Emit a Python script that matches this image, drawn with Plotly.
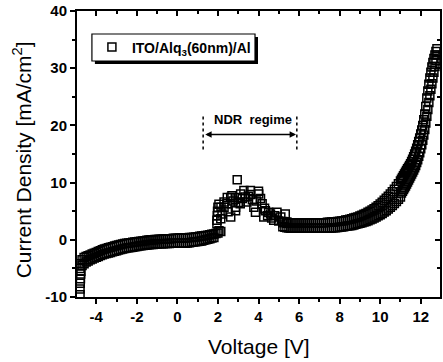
import plotly.graph_objects as go

# ---------------- data ----------------
# reverse bias -> low forward bias, upper and lower edge of the measured band
V_low_up = [-4.8, -4.7, -4.6, -4.5, -4.4, -4.3, -4.2, -4.1, -4.0,
            -3.9, -3.8, -3.7, -3.6, -3.5, -3.4, -3.3, -3.2, -3.1, -3.0,
            -2.9, -2.8, -2.7, -2.6, -2.5, -2.4, -2.3, -2.2, -2.1, -2.0,
            -1.9, -1.8, -1.7, -1.6, -1.5, -1.4, -1.3, -1.2, -1.1, -1.0,
            -0.9, -0.8, -0.7, -0.6, -0.5, -0.4, -0.3, -0.2, -0.1, 0.0,
            0.1, 0.2, 0.3, 0.4, 0.5, 0.6, 0.7, 0.8, 0.9, 1.0,
            1.1, 1.2, 1.3, 1.4, 1.5, 1.6, 1.7, 1.8, 1.9, 2.0]
J_low_up = [-4.2, -3.5, -3.1, -2.9, -2.8, -2.65, -2.5, -2.35, -2.2,
            -2.05, -1.9, -1.75, -1.6, -1.5, -1.4, -1.3, -1.2, -1.1, -1.0,
            -0.9, -0.8, -0.75, -0.65, -0.6, -0.55, -0.5, -0.45, -0.4, -0.35,
            -0.3, -0.25, -0.2, -0.15, -0.1, -0.05, 0.0, 0.0, 0.05, 0.05,
            0.1, 0.1, 0.15, 0.15, 0.2, 0.2, 0.2, 0.25, 0.25, 0.25,
            0.3, 0.3, 0.3, 0.35, 0.35, 0.4, 0.4, 0.45, 0.5, 0.55,
            0.6, 0.65, 0.7, 0.75, 0.8, 0.9, 0.95, 1.0, 1.1, 1.2]
V_low_dn = [-4.8, -4.7, -4.6, -4.5, -4.4, -4.3, -4.2, -4.1, -4.0,
            -3.9, -3.8, -3.7, -3.6, -3.5, -3.4, -3.3, -3.2, -3.1, -3.0,
            -2.9, -2.8, -2.7, -2.6, -2.5, -2.4, -2.3, -2.2, -2.1, -2.0,
            -1.9, -1.8, -1.7, -1.6, -1.5, -1.4, -1.3, -1.2, -1.1, -1.0,
            -0.9, -0.8, -0.7, -0.6, -0.5, -0.4, -0.3, -0.2, -0.1, 0.0,
            0.1, 0.2, 0.3, 0.4, 0.5, 0.6, 0.7, 0.8, 0.9, 1.0,
            1.1, 1.2, 1.3, 1.4, 1.5, 1.6, 1.7, 1.8]
J_low_dn = [-5.0, -4.5, -4.2, -3.9, -3.7, -3.5, -3.35, -3.2, -3.05,
            -2.9, -2.75, -2.6, -2.5, -2.4, -2.3, -2.2, -2.1, -2.0, -1.9,
            -1.8, -1.7, -1.6, -1.5, -1.45, -1.4, -1.35, -1.3, -1.2, -1.15,
            -1.1, -1.05, -1.0, -0.95, -0.9, -0.85, -0.8, -0.8, -0.75, -0.75,
            -0.7, -0.7, -0.7, -0.65, -0.65, -0.65, -0.6, -0.6, -0.6, -0.6,
            -0.6, -0.6, -0.6, -0.6, -0.55, -0.5, -0.45, -0.4, -0.35, -0.3,
            -0.25, -0.2, -0.1, 0.0, 0.1, 0.2, 0.3, 0.4]
# first points at -4.8 V
V_start = [-4.8, -4.8, -4.79, -4.78, -4.77, -4.76]
J_start = [-9.6, -8.6, -7.6, -6.8, -6.0, -5.5]
# negative differential resistance region
V_ndr = [2.05, 2.14, 1.95, 1.95, 1.97, 1.98, 2.0, 2.05, 2.14, 2.2, 2.15, 2.3, 2.3,
         2.46, 2.45, 2.5, 2.63, 2.63, 2.69, 2.75, 2.87, 2.87, 2.94, 2.95, 3.0, 3.1,
         3.12, 3.2, 3.28, 3.35, 3.43, 3.5, 3.6, 3.6, 3.7, 3.77, 3.85, 3.9, 4.0, 4.01,
         4.1, 4.18, 4.26, 4.3, 4.34, 4.45, 4.5, 4.59, 4.65, 4.75, 4.8, 4.91, 5.0,
         5.1, 5.2, 5.32, 5.4]
J_ndr = [1.6, 1.45, 2.8, 3.4, 4.2, 5.0, 5.7, 6.2, 3.7, 4.5, 5.7, 5.7, 6.6,
         7.4, 6.3, 4.9, 4.0, 7.4, 7.7, 6.8, 5.7, 5.1, 7.4, 10.5, 6.5, 6.3,
         8.0, 7.2, 8.6, 7.5, 6.6, 7.6, 8.6, 7.9, 7.0, 5.7, 4.8, 6.8, 8.5, 8.0,
         7.2, 6.3, 4.0, 5.5, 5.1, 4.2, 4.8, 4.5, 3.8, 3.4, 4.2, 4.8, 3.3,
         4.0, 3.0, 4.5, 2.9]
# plateau and onset of injection, upper / lower edge of band
V_mid = [5.2, 5.3, 5.4, 5.5, 5.6, 5.7, 5.8, 5.9, 6.0,
         6.1, 6.2, 6.3, 6.4, 6.5, 6.6, 6.7, 6.8, 6.9, 7.0,
         7.1, 7.2, 7.3, 7.4, 7.5, 7.6, 7.7, 7.8, 7.9, 8.0,
         8.1, 8.2, 8.3, 8.4, 8.5, 8.6, 8.7, 8.8, 8.9, 9.0,
         9.1, 9.2, 9.3, 9.4, 9.5, 9.6, 9.7, 9.8, 9.9, 10.0,
         10.1, 10.2, 10.3, 10.4, 10.5, 10.6, 10.7, 10.8, 10.9, 11.0]
J_mid_up = [3.2, 3.1, 3.1, 3.0, 3.0, 3.0, 3.0, 3.0, 3.0,
            3.0, 3.0, 3.0, 3.0, 3.0, 3.0, 3.0, 3.0, 3.0, 3.0,
            3.0, 3.0, 3.0, 3.05, 3.05, 3.1, 3.1, 3.15, 3.2, 3.25,
            3.3, 3.35, 3.45, 3.5, 3.6, 3.7, 3.8, 3.9, 4.0, 4.15,
            4.3, 4.45, 4.6, 4.8, 5.0, 5.2, 5.45, 5.7, 5.95, 6.25,
            6.55, 6.9, 7.25, 7.6, 8.0, 8.4, 8.85, 9.3, 9.8, 10.3]
J_mid_dn = [2.3, 2.2, 2.1, 2.05, 2.0, 2.0, 2.0, 2.0, 2.0,
            2.0, 2.0, 2.0, 2.0, 2.0, 2.0, 2.0, 2.0, 2.0, 2.0,
            2.0, 2.0, 2.0, 2.0, 2.05, 2.05, 2.1, 2.1, 2.15, 2.2,
            2.25, 2.3, 2.35, 2.4, 2.45, 2.5, 2.6, 2.7, 2.8, 2.9,
            3.0, 3.1, 3.2, 3.35, 3.5, 3.65, 3.8, 4.0, 4.2, 4.4,
            4.6, 4.85, 5.1, 5.4, 5.7, 6.0, 6.35, 6.7, 7.1, 7.5]
# steep rise at high voltage
V_high = [11.05, 11.1, 11.15, 11.2, 11.25, 11.3, 11.35, 11.4, 11.45, 11.5,
          11.55, 11.6, 11.65, 11.7, 11.75, 11.8, 11.85, 11.9, 11.95, 12.0,
          12.05, 12.1, 12.15, 12.2, 12.25, 12.3, 12.35, 12.4, 12.45, 12.5,
          12.55, 12.6, 12.65, 12.7, 12.75, 12.8]
J_high_up = [10.6, 10.9, 11.2, 11.5, 11.8, 12.1, 12.4, 12.7, 13.0, 13.3,
             13.7, 14.1, 14.5, 15.0, 15.5, 16.0, 16.6, 17.2, 17.8, 18.5,
             19.2, 20.0, 21.0, 22.0, 23.3, 24.8, 26.0, 27.2, 28.3, 29.3,
             30.2, 31.0, 31.7, 32.3, 32.9, 33.4]
J_high_dn = [8.2, 8.5, 8.8, 9.1, 9.4, 9.75, 10.1, 10.45, 10.8, 11.15,
             11.5, 11.85, 12.2, 12.6, 13.0, 13.5, 14.0, 14.6, 15.2, 15.9,
             16.6, 17.4, 18.3, 19.3, 20.4, 21.6, 22.8, 24.0, 25.2, 26.3,
             27.3, 28.3, 29.3, 30.3, 31.3, 32.3]

x_ticks = [-4, -2, 0, 2, 4, 6, 8, 10, 12]
x_ticktext = ["-4", "-2", "0", "2", "4", "6", "8", "10", "12"]
y_ticks = [-10, 0, 10, 20, 30, 40]
y_ticktext = ["-10", "0", "10", "20", "30", "40"]

V_all = V_start + V_low_dn + V_low_up + V_ndr + V_mid + V_mid + V_high + V_high
J_all = J_start + J_low_dn + J_low_up + J_ndr + J_mid_dn + J_mid_up + J_high_dn + J_high_up

FONT = "Arial, Liberation Sans, sans-serif"
L, R, T, B = 77, 442, 11, 297
PW, PH = R - L, B - T


def px(xp):
    return (xp - L) / PW


def py(yp):
    return (B - yp) / PH


fig = go.Figure()
fig.add_trace(go.Scatter(
    x=V_all, y=J_all, mode="markers",
    name="ITO/Alq<sub>3</sub>(60nm)/Al",
    marker=dict(symbol="square-open", size=8, color="black", line=dict(width=1.5)),
))
# helper trace so the mirrored (top/right) axes with inward ticks exist
fig.add_trace(go.Scatter(x=[None], y=[None], xaxis="x2", yaxis="y2",
                         showlegend=False, hoverinfo="skip"))

common = dict(showgrid=False, zeroline=False, showline=True, linecolor="black",
              linewidth=2, tickcolor="black", tickwidth=1.5)
fig.update_layout(
    width=443, height=362,
    margin=dict(l=L, r=443 - R, t=T, b=362 - B),
    paper_bgcolor="white", plot_bgcolor="white",
    font=dict(family=FONT, color="black"),
    showlegend=True,
    xaxis=dict(range=[-4.95, 12.95], tickvals=x_ticks, ticktext=x_ticktext,
               ticks="outside", ticklen=5, mirror=True,
               minor=dict(dtick=1, tick0=0, ticks="outside", ticklen=3,
                          tickcolor="black", tickwidth=1.5),
               tickfont=dict(size=15, weight="bold"), **common),
    yaxis=dict(range=[-10, 40], tickvals=y_ticks, ticktext=y_ticktext,
               ticks="outside", ticklen=5, mirror=True,
               minor=dict(dtick=5, tick0=0, ticks="outside", ticklen=3,
                          tickcolor="black", tickwidth=1.5),
               tickfont=dict(size=15, weight="bold"), **common),
    xaxis2=dict(range=[-4.95, 12.95], overlaying="x", side="top", anchor="y2",
                tickvals=x_ticks, showticklabels=False, ticks="inside", ticklen=5,
                minor=dict(dtick=1, tick0=0, ticks="inside", ticklen=3,
                           tickcolor="black", tickwidth=1.5),
                **common),
    yaxis2=dict(range=[-10, 40], overlaying="y", side="right", anchor="x2",
                tickvals=y_ticks, showticklabels=False, ticks="inside", ticklen=5,
                minor=dict(dtick=5, tick0=0, ticks="inside", ticklen=3,
                           tickcolor="black", tickwidth=1.5),
                **common),
    legend=dict(x=px(92), y=py(47.5), xanchor="left", yanchor="middle",
                bgcolor="rgba(0,0,0,0)", borderwidth=0,
                font=dict(size=14, weight="bold")),
)

# legend frame with drop shadow
fig.add_shape(type="rect", xref="paper", yref="paper",
              x0=px(95), x1=px(259), y0=py(64), y1=py(37),
              fillcolor="black", line=dict(width=0), layer="below")
fig.add_shape(type="rect", xref="paper", yref="paper",
              x0=px(92), x1=px(256), y0=py(61), y1=py(34),
              fillcolor="white", line=dict(width=1.2, color="black"), layer="below")

# NDR regime marking
fig.add_annotation(x=3.72, y=21.0, text="<b>NDR  regime</b>", showarrow=False,
                   font=dict(size=13, family=FONT))
fig.add_annotation(x=5.85, y=18.4, ax=1.3, ay=18.4, axref="x", ayref="y",
                   text="", showarrow=True, arrowhead=2, arrowside="end+start",
                   arrowsize=0.8, arrowwidth=1.6, arrowcolor="black")
for xv in [1.27, 5.89]:
    fig.add_shape(type="line", x0=xv, x1=xv, y0=15.8, y1=21.6,
                  line=dict(color="black", width=1.5, dash="dot"))

# axis titles
fig.add_annotation(xref="paper", yref="paper", x=px(22), y=py(160),
                   xanchor="center", yanchor="middle",
                   text="Current Density [mA/cm<sup>2</sup>]", textangle=-90,
                   showarrow=False, font=dict(size=21, family=FONT))
fig.add_annotation(xref="paper", yref="paper", x=px(260), y=py(346),
                   xanchor="center", yanchor="middle",
                   text="Voltage [V]", showarrow=False, font=dict(size=21, family=FONT))

fig.write_html("out.html")
